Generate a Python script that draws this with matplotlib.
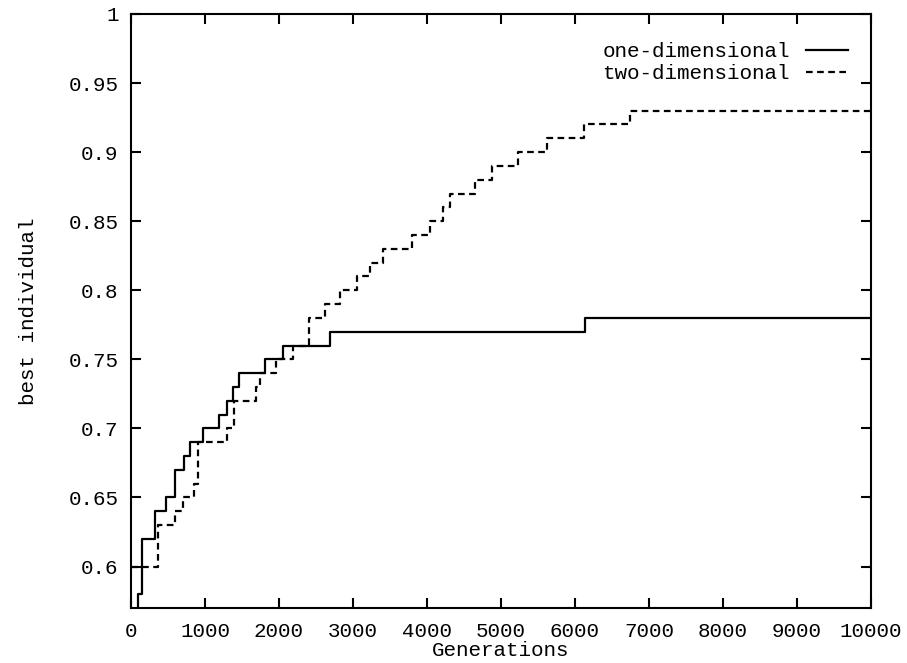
import matplotlib.pyplot as plt

# best individual per generation
gen_one = [0, 90, 153, 324, 470, 590, 710, 800, 977, 1185, 1300, 1372, 1465, 1805, 2055, 2689, 6130, 10000]
best_one = [0.55, 0.58, 0.62, 0.64, 0.65, 0.67, 0.68, 0.69, 0.70, 0.71, 0.72, 0.73, 0.74, 0.75, 0.76,
            0.77, 0.78, 0.78]

gen_two = [0, 360, 590, 703, 850, 900, 1300, 1390, 1690, 1740, 1955, 2190, 2400, 2622, 2824, 3050,
           3230, 3410, 3793, 4040, 4220, 4310, 4649, 4874, 5234, 5617, 6120, 6743, 10000]
best_two = [0.60, 0.63, 0.64, 0.65, 0.66, 0.69, 0.70, 0.72, 0.73, 0.74, 0.75, 0.76, 0.78, 0.79, 0.80, 0.81,
            0.82, 0.83, 0.84, 0.85, 0.86, 0.87, 0.88, 0.89, 0.90, 0.91, 0.92, 0.93, 0.93]

xticks = list(range(0, 10001, 1000))
yticks = [0.6, 0.65, 0.7, 0.75, 0.8, 0.85, 0.9, 0.95, 1]
ytick_labels = ['0.6', '0.65', '0.7', '0.75', '0.8', '0.85', '0.9', '0.95', '1']

plt.rcParams['font.family'] = ['Liberation Mono', 'DejaVu Sans Mono']
plt.rcParams['font.size'] = 15

fig = plt.figure(figsize=(9.07, 6.63), dpi=100)
ax = fig.add_axes([0.1444, 0.0830, 0.8159, 0.8959])

ax.step(gen_one, best_one, where='post', color='black', lw=1.6, label='one-dimensional')
ax.step(gen_two, best_two, where='post', color='black', lw=1.6, linestyle=(0, (3, 2)),
        label='two-dimensional')

ax.set_xlim(0, 10000)
ax.set_ylim(0.57, 1.0)
ax.set_xticks(xticks)
ax.set_yticks(yticks)
ax.set_yticklabels(ytick_labels)

ax.tick_params(direction='in', length=7.5, width=1.5, top=True, right=True, pad=9)
ax.tick_params(axis='x', pad=10)
for s in ax.spines.values():
    s.set_linewidth(1.5)

ax.set_xlabel('Generations', labelpad=0)
ax.set_ylabel('best individual', labelpad=22)

ax.legend(loc='upper right', bbox_to_anchor=(0.969, 0.953), frameon=False, markerfirst=False,
          handlelength=2.0, handletextpad=0.8, labelspacing=0.15, borderpad=0, borderaxespad=0)

plt.savefig('out.png', dpi=100)
